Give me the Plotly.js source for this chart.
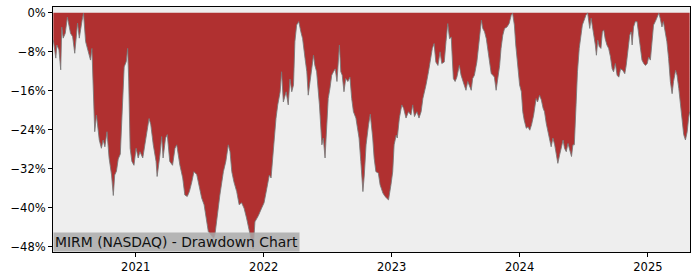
<!DOCTYPE html>
<html>
<head>
<meta charset="utf-8">
<script src="https://cdn.plot.ly/plotly-3.0.1.min.js"></script>
<style>html,body{margin:0;padding:0;background:#fff;}#chart{width:700px;height:280px;}</style>
</head>
<body>
<div id="chart"></div>
<script>
const dates = [
"2020-05-11","2020-05-18","2020-05-21","2020-05-27","2020-06-01","2020-06-04","2020-06-08","2020-06-14","2020-06-20","2020-06-24",
"2020-06-29","2020-07-05","2020-07-11","2020-07-19","2020-07-24","2020-08-01","2020-08-05","2020-08-11","2020-08-18","2020-08-25",
"2020-08-29","2020-09-02","2020-09-06","2020-09-11","2020-09-19","2020-09-25","2020-09-30","2020-10-05","2020-10-11","2020-10-17",
"2020-10-24","2020-10-29","2020-11-02","2020-11-07","2020-11-12","2020-11-18","2020-11-22","2020-11-26","2020-11-29","2020-12-05",
"2020-12-09","2020-12-12","2020-12-16","2020-12-21","2020-12-27",
"2021-01-02","2021-01-08","2021-01-13","2021-01-21","2021-01-27","2021-02-03","2021-02-08","2021-02-13","2021-02-20","2021-02-28",
"2021-03-03","2021-03-11","2021-03-16","2021-03-20","2021-03-27","2021-04-01","2021-04-08","2021-04-16","2021-04-23","2021-04-28",
"2021-05-07","2021-05-15","2021-05-21","2021-05-28","2021-06-03","2021-06-10","2021-06-16","2021-06-24","2021-06-30","2021-07-08",
"2021-07-15","2021-07-20","2021-07-27","2021-08-04","2021-08-11","2021-08-15","2021-08-20","2021-08-29","2021-09-08","2021-09-15",
"2021-09-22","2021-09-27","2021-10-02","2021-10-08","2021-10-16","2021-10-23","2021-10-30","2021-11-06","2021-11-13","2021-11-21",
"2021-11-28","2021-12-02","2021-12-07","2021-12-17","2021-12-26",
"2022-01-02","2022-01-10","2022-01-17","2022-01-22","2022-01-28","2022-02-05","2022-02-10","2022-02-17","2022-02-21","2022-02-26",
"2022-03-06","2022-03-12","2022-03-17","2022-03-22","2022-03-27","2022-03-31","2022-04-05","2022-04-11","2022-04-17","2022-04-22",
"2022-04-29","2022-05-04","2022-05-08","2022-05-13","2022-05-18","2022-05-23","2022-05-27","2022-06-01","2022-06-09","2022-06-16",
"2022-06-20","2022-06-25","2022-06-30","2022-07-04","2022-07-09","2022-07-14","2022-07-19","2022-07-24","2022-07-29","2022-08-02",
"2022-08-05","2022-08-09","2022-08-13","2022-08-18","2022-08-23","2022-08-29","2022-09-04","2022-09-09","2022-09-14","2022-09-21",
"2022-09-25","2022-09-30","2022-10-05","2022-10-11","2022-10-15","2022-10-20","2022-10-27","2022-11-01","2022-11-08","2022-11-12",
"2022-11-17","2022-11-24","2022-11-29","2022-12-07","2022-12-13","2022-12-23","2022-12-30",
"2023-01-04","2023-01-08","2023-01-14","2023-01-17","2023-01-23","2023-01-30","2023-02-04","2023-02-11","2023-02-18","2023-02-25",
"2023-03-02","2023-03-07","2023-03-14","2023-03-20","2023-03-26","2023-03-31","2023-04-05","2023-04-09","2023-04-16","2023-04-21",
"2023-04-27","2023-05-02","2023-05-07","2023-05-13","2023-05-19","2023-05-24","2023-05-31","2023-06-05","2023-06-10","2023-06-15",
"2023-06-20","2023-06-22","2023-06-26","2023-07-01","2023-07-06","2023-07-13","2023-07-18","2023-07-25","2023-08-01","2023-08-06",
"2023-08-11","2023-08-16","2023-08-20","2023-08-25","2023-09-01","2023-09-06","2023-09-11","2023-09-14","2023-09-18","2023-09-23",
"2023-09-28","2023-10-03","2023-10-07","2023-10-12","2023-10-17","2023-10-21","2023-10-26","2023-10-31","2023-11-05","2023-11-09",
"2023-11-14","2023-11-19","2023-11-26","2023-12-02","2023-12-08","2023-12-12","2023-12-17","2023-12-21","2023-12-27",
"2024-01-01","2024-01-06","2024-01-10","2024-01-14","2024-01-20","2024-01-25","2024-01-30","2024-02-04","2024-02-10","2024-02-17",
"2024-02-21","2024-02-27","2024-03-03","2024-03-08","2024-03-12","2024-03-17","2024-03-22","2024-03-27","2024-03-31","2024-04-05",
"2024-04-10","2024-04-15","2024-04-19","2024-04-24","2024-04-29","2024-05-04","2024-05-08","2024-05-13","2024-05-18","2024-05-23",
"2024-05-28","2024-06-01","2024-06-05","2024-06-10","2024-06-14","2024-06-19","2024-06-24","2024-06-28","2024-07-03","2024-07-08",
"2024-07-13","2024-07-16","2024-07-19","2024-07-23","2024-07-26","2024-07-30","2024-08-04","2024-08-07","2024-08-11","2024-08-15",
"2024-08-20","2024-08-24","2024-08-28","2024-09-01","2024-09-06","2024-09-11","2024-09-16","2024-09-21","2024-09-25","2024-09-30",
"2024-10-05","2024-10-10","2024-10-15","2024-10-21","2024-10-27","2024-10-31","2024-11-05","2024-11-10","2024-11-14","2024-11-17",
"2024-11-21","2024-11-26","2024-12-01","2024-12-06","2024-12-11","2024-12-15","2024-12-20","2024-12-25","2024-12-30",
"2025-01-03","2025-01-08","2025-01-13","2025-01-17","2025-01-22","2025-01-27","2025-02-01","2025-02-05","2025-02-10","2025-02-14",
"2025-02-19","2025-02-24","2025-03-01","2025-03-06","2025-03-11","2025-03-15","2025-03-21","2025-03-25","2025-03-30","2025-04-04",
"2025-04-09","2025-04-13","2025-04-18","2025-04-23","2025-04-27","2025-04-30"
];
const drawdown = [
-5.6,-9.3,-6.6,-7.6,-11.7,-2.9,-5.2,-4.2,-0.9,-2.1,
-4.2,-4.9,-8.3,-2.1,-5.2,-1.5,-0.1,-5.9,-7.6,-9.7,
-7.3,-17.9,-24.4,-21.0,-26.1,-27.8,-26.1,-27.5,-24.4,-29.8,
-33.3,-37.5,-33.3,-32.5,-30.0,-29.0,-22.0,-13.0,-11.1,-10.0,
-7.3,-14.0,-27.8,-30.5,-31.3,
-27.8,-29.8,-28.5,-29.8,-27.1,-23.7,-21.7,-23.0,-27.1,-30.5,
-33.6,-29.2,-25.4,-29.8,-25.7,-25.0,-30.5,-31.3,-27.8,-27.1,
-31.3,-33.9,-37.4,-37.7,-36.7,-34.7,-32.6,-33.2,-35.3,-38.0,
-39.4,-42.1,-44.9,-45.6,-46.3,-45.5,-42.1,-37.4,-32.6,-30.5,
-27.1,-28.5,-32.6,-34.7,-36.7,-39.4,-39.0,-40.1,-42.1,-44.9,
-47.0,-48.5,-42.9,-41.6,-40.1,
-39.0,-36.0,-33.3,-33.9,-28.5,-21.7,-18.9,-16.2,-12.1,-18.3,
-16.2,-18.9,-13.6,-16.2,-14.8,-5.9,-2.5,-1.8,-3.9,-5.3,
-9.4,-12.1,-16.9,-13.5,-11.5,-8.7,-10.8,-12.1,-18.9,-27.1,
-25.7,-29.8,-23.0,-17.6,-15.5,-12.8,-12.1,-11.5,-14.1,-8.7,
-6.6,-12.1,-12.8,-16.2,-13.5,-14.1,-13.2,-17.6,-20.3,-21.6,
-23.7,-25.7,-30.5,-36.7,-33.3,-27.1,-23.0,-20.8,-25.7,-29.8,
-32.6,-32.9,-35.3,-37.0,-37.7,-38.4,-35.3,
-32.6,-27.1,-25.1,-25.7,-21.6,-18.9,-19.6,-21.6,-20.3,-21.0,
-18.9,-21.3,-20.3,-21.6,-20.3,-17.6,-16.2,-14.8,-12.1,-10.1,
-7.3,-6.3,-10.1,-10.8,-8.0,-10.4,-10.1,-5.9,-2.2,-5.3,
-5.0,-8.0,-13.5,-14.1,-13.2,-10.8,-12.8,-14.4,-15.9,-14.1,
-15.2,-15.9,-13.5,-12.8,-10.1,-6.6,-2.2,-1.5,-3.2,-3.9,
-5.3,-8.0,-9.4,-12.5,-12.8,-13.2,-15.9,-13.5,-10.8,-7.3,
-4.6,-3.2,-2.9,-2.2,-0.5,-0.1,-2.5,-6.6,-11.5,
-14.8,-16.2,-20.3,-22.0,-23.7,-23.4,-24.1,-23.0,-21.0,-17.6,
-18.3,-16.9,-17.9,-19.6,-20.3,-22.7,-24.4,-26.1,-27.5,-25.7,
-27.1,-29.2,-30.9,-29.2,-27.8,-26.1,-27.8,-28.5,-26.8,-28.5,
-29.5,-27.1,-27.1,-18.9,-12.1,-7.3,-3.9,-2.5,-1.5,-0.5,
0.0,-1.8,-3.2,-1.1,-2.5,-3.9,-6.6,-8.7,-5.6,-6.9,
-7.3,-3.9,-3.5,-5.3,-6.6,-7.3,-9.0,-11.5,-12.1,-10.4,
-12.8,-13.2,-11.5,-11.8,-12.5,-10.8,-7.3,-4.6,-3.9,-6.6,
-2.9,-1.8,-1.8,-4.6,-7.3,-9.7,-10.4,-10.8,-10.4,
-9.1,-9.7,-5.3,-2.5,-1.8,-0.8,-0.1,-1.1,-2.9,-1.8,
-3.5,-5.9,-9.4,-14.1,-16.6,-14.1,-11.8,-12.8,-15.5,-18.9,
-23.0,-25.0,-26.1,-24.4,-21.6,-20.3
];
const yTickVals = [0, -8, -16, -24, -32, -40, -48];
const yTickText = ["0%", "\u22128%", "\u221216%", "\u221224%", "\u221232%", "\u221240%", "\u221248%"];
const xTickVals = ["2021-01-01", "2022-01-01", "2023-01-01", "2024-01-01", "2025-01-01"];
const xTickText = ["2021", "2022", "2023", "2024", "2025"];
const chartLabel = "MIRM (NASDAQ) - Drawdown Chart";

const trace = {
  x: dates, y: drawdown, type: "scatter", mode: "lines",
  fill: "tozeroy", fillcolor: "#b03030",
  line: {color: "rgba(120,120,120,0.85)", width: 1},
  hoverinfo: "skip"
};
const layout = {
  width: 700, height: 280,
  margin: {l: 53, r: 10, t: 7, b: 28, pad: 0},
  paper_bgcolor: "#ffffff", plot_bgcolor: "#eeeeee",
  showlegend: false,
  font: {family: "DejaVu Sans", size: 11.5, color: "#000"},
  xaxis: {
    type: "date", range: ["2020-05-10", "2025-05-01"],
    tickvals: xTickVals, ticktext: xTickText,
    showgrid: false, zeroline: false,
    showline: true, linecolor: "#000", linewidth: 1, mirror: true,
    ticks: "outside", ticklen: 4, tickcolor: "#000", tickwidth: 1,
    tickfont: {family: "DejaVu Sans", size: 11.5, color: "#000"}
  },
  yaxis: {
    range: [-49.1, 1.2],
    tickvals: yTickVals, ticktext: yTickText,
    showgrid: false, zeroline: false,
    showline: true, linecolor: "#000", linewidth: 1, mirror: true,
    ticks: "outside", ticklen: 4, tickcolor: "#000", tickwidth: 1,
    tickfont: {family: "DejaVu Sans", size: 11.5, color: "#000"}
  },
  annotations: [{
    xref: "paper", yref: "paper", x: 0, y: 0,
    xanchor: "left", yanchor: "bottom",
    text: chartLabel, showarrow: false,
    font: {family: "DejaVu Sans", size: 13.9, color: "#111"},
    bgcolor: "rgba(170,170,170,0.85)", borderpad: 1
  }]
};
Plotly.newPlot("chart", [trace], layout, {displayModeBar: false, staticPlot: true});
</script>
</body>
</html>
